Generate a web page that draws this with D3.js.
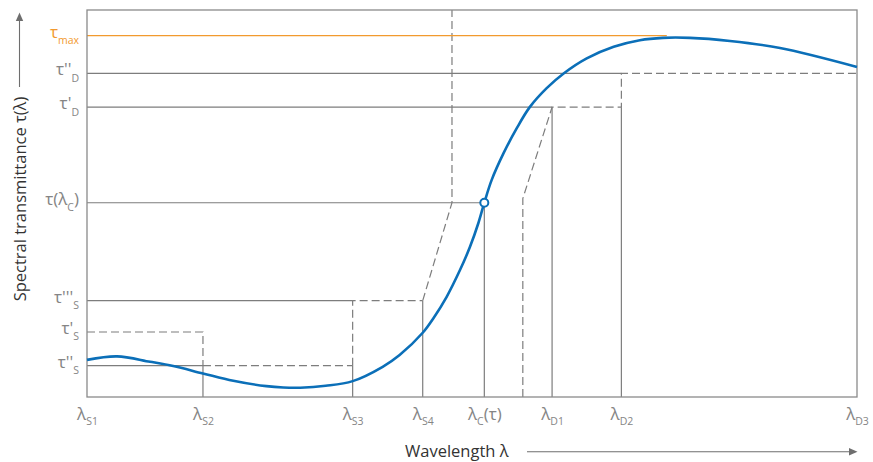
<!DOCTYPE html>
<html>
<head>
<meta charset="utf-8">
<script src="https://cdn.jsdelivr.net/npm/d3@7"></script>
<style>
  html, body { margin: 0; padding: 0; background: #fff; }
  svg { display: block; font-family: "Open Sans", "Noto Sans", sans-serif; }
</style>
</head>
<body>
<svg id="chart" width="873" height="462"></svg>
<script>
// ---- data ----
const curveWavelength = [0, 3.9, 8.2, 11.2, 15.06, 19.0, 23.3, 25.5, 27.7, 31.0, 34.5, 38.4, 40.6, 43.6, 44.97, 46.71, 48.44, 49.74, 50.82, 51.6, 52.56, 54.1, 55.8, 57.5, 59.7, 61.9, 64.9, 68.4, 71.8, 74.8, 78.3, 83.5, 90.0, 100];
const curveTransmittance = [9.6, 10.5, 9.1, 8.0, 6.1, 4.2, 2.8, 2.45, 2.4, 2.9, 4.1, 7.8, 10.85, 16.6, 20.3, 25.9, 32.8, 38.8, 44.9, 50.2, 56.1, 63.0, 69.4, 74.9, 79.8, 83.6, 87.5, 90.5, 92.2, 92.8, 92.8, 92.0, 90.2, 85.3];

const xTickValues = [0, 15.06, 34.5, 43.6, 51.6, 60.4, 69.4, 100];
const xTickMain = ["λ", "λ", "λ", "λ", "λ", "λ", "λ", "λ"];
const xTickSub = ["S1", "S2", "S3", "S4", "C", "D1", "D2", "D3"];
const xTickTail = ["", "", "", "", "(τ)", "", "", ""];

const yTickValues = [93.4, 83.6, 74.9, 50.2, 24.9, 16.8, 8.1];
const yTickMain = ["τ", "τ''", "τ'", "τ(λ", "τ'''", "τ'", "τ''"];
const yTickSub = ["max", "D", "D", "C", "S", "S", "S"];
const yTickTail = ["", "", "", ")", "", "", ""];

const tauMax = 93.4, tauD2 = 83.6, tauD1 = 74.9, tauC = 50.2, tauS3 = 24.9, tauS1 = 16.8, tauS2 = 8.1;
const lamS1 = 0, lamS2 = 15.06, lamS3 = 34.5, lamS4 = 43.6, lamC = 51.6, lamD1 = 60.4, lamD2 = 69.4, lamD3 = 100;
const lamTol1 = 47.4, lamTol2 = 56.6, tauTol2 = 51.3, lamMaxEnd = 75.3;

// solid guide lines: [[x,y],[x,y],...]
const solidGuides = [
  [[lamS1, tauD2], [lamD2, tauD2]],
  [[lamS1, tauD1], [lamD1, tauD1]],
  [[lamS1, tauC], [lamC, tauC]],
  [[lamS1, tauS3], [lamS3, tauS3]],
  [[lamS1, tauS2], [lamS2, tauS2]],
  [[lamS2, tauS2], [lamS2, 0]],
  [[lamS3, tauS2], [lamS3, 0]],
  [[lamS4, tauS3], [lamS4, 0]],
  [[lamC, tauC], [lamC, 0]],
  [[lamD1, tauD1], [lamD1, 0]],
  [[lamD2, tauD1], [lamD2, 0]]
];
const dashedGuides = [
  [[lamS1, tauS1], [lamS2, tauS1], [lamS2, tauS2]],
  [[lamS2, tauS2], [lamS3, tauS2]],
  [[lamS3, tauS2], [lamS3, tauS3], [lamS4, tauS3]],
  [[lamS4, tauS3], [lamTol1, tauC], [lamTol1, 100]],
  [[lamTol2, 0], [lamTol2, tauTol2], [lamD1, tauD1], [lamD2, tauD1], [lamD2, tauD2], [lamD3, tauD2]]
];

// ---- drawing ----
const svg = d3.select("#chart");
const x = d3.scaleLinear().domain([0, 100]).range([87, 857]);
const y = d3.scaleLinear().domain([0, 100]).range([397, 10]);

const gray = "#7d7d7d";
const labelGray = "#858585";
const blue = "#0b6fb8";
const orange = "#f29a2e";

const line = d3.line().x(d => x(d[0])).y(d => y(d[1]));

svg.append("g").selectAll("path").data(solidGuides).join("path")
  .attr("d", line).attr("fill", "none").attr("stroke", gray).attr("stroke-width", 1.2);

svg.append("g").selectAll("path").data(dashedGuides).join("path")
  .attr("d", line).attr("fill", "none").attr("stroke", gray).attr("stroke-width", 1.2)
  .attr("stroke-dasharray", "8,4");

// tau max line
svg.append("path").attr("d", line([[lamS1, tauMax], [lamMaxEnd, tauMax]]))
  .attr("stroke", orange).attr("stroke-width", 1.3).attr("fill", "none");

// frame
svg.append("rect").attr("x", x(0)).attr("y", y(100)).attr("width", x(100) - x(0)).attr("height", y(0) - y(100))
  .attr("fill", "none").attr("stroke", "#8a8a8a").attr("stroke-width", 1.3);

// curve
const curvePts = curveWavelength.map((w, i) => [w, curveTransmittance[i]]);
svg.append("path").datum(curvePts)
  .attr("d", d3.line().x(d => x(d[0])).y(d => y(d[1])).curve(d3.curveCatmullRom.alpha(0.5)))
  .attr("fill", "none").attr("stroke", blue).attr("stroke-width", 2.6);

svg.append("circle").attr("cx", x(lamC)).attr("cy", y(tauC)).attr("r", 4)
  .attr("fill", "#fff").attr("stroke", blue).attr("stroke-width", 2);

// x axis labels
const xAxisG = svg.append("g").attr("transform", `translate(0,${y(0)})`)
  .call(d3.axisBottom(x).tickValues(xTickValues).tickSize(0).tickFormat(""));
xAxisG.select(".domain").remove();
xAxisG.selectAll(".tick text").each(function (d, i) {
  const t = d3.select(this);
  t.text(null).attr("y", 23).attr("dy", null).attr("fill", labelGray)
    .attr("font-size", 17).attr("text-anchor", "middle").attr("font-family", "Open Sans");
  t.append("tspan").text(xTickMain[i]);
  t.append("tspan").attr("dy", 5).attr("font-size", 10.5).text(xTickSub[i]);
  if (xTickTail[i]) t.append("tspan").attr("dy", -5).text(xTickTail[i]);
});

// y axis labels
const yAxisG = svg.append("g").attr("transform", `translate(${x(0)},0)`)
  .call(d3.axisLeft(y).tickValues(yTickValues).tickSize(0).tickFormat(""));
yAxisG.select(".domain").remove();
yAxisG.selectAll(".tick text").each(function (d, i) {
  const t = d3.select(this);
  t.text(null).attr("x", -8).attr("y", 1.5).attr("dy", null)
    .attr("fill", i === 0 ? orange : labelGray)
    .attr("font-size", 17).attr("text-anchor", "end").attr("font-family", "Open Sans");
  t.append("tspan").text(yTickMain[i]);
  t.append("tspan").attr("dy", 6.5).attr("font-size", 10.5).text(yTickSub[i]);
  if (yTickTail[i]) t.append("tspan").attr("dy", -6.5).text(yTickTail[i]);
});

// axis titles with arrows
const titleColor = "#333";
const arrowColor = "#6e6e6e";
svg.append("text").attr("x", 405).attr("y", 457).attr("font-size", 16.5).attr("fill", titleColor)
  .text("Wavelength λ");
svg.append("line").attr("x1", 527).attr("x2", 850).attr("y1", 451.7).attr("y2", 451.7)
  .attr("stroke", arrowColor).attr("stroke-width", 1.1);
svg.append("path").attr("d", "M849,448 L857.5,451.7 L849,455.4 Z").attr("fill", arrowColor);

svg.append("text").attr("transform", "translate(26,199) rotate(-90)").attr("text-anchor", "middle")
  .attr("font-size", 16.5).attr("fill", titleColor).text("Spectral transmittance τ(λ)");
svg.append("line").attr("x1", 19.5).attr("x2", 19.5).attr("y1", 87).attr("y2", 20)
  .attr("stroke", arrowColor).attr("stroke-width", 1.1);
svg.append("path").attr("d", "M15.8,21 L19.5,12.5 L23.2,21 Z").attr("fill", arrowColor);
</script>
</body>
</html>
